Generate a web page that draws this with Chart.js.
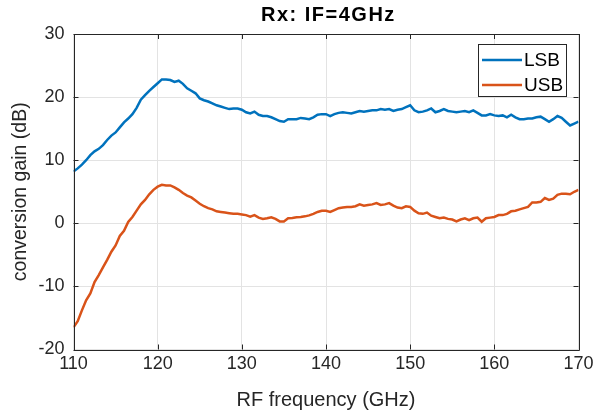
<!DOCTYPE html>
<html>
<head>
<meta charset="utf-8">
<script src="https://cdn.jsdelivr.net/npm/chart.js@4"></script>
<style>
html,body{margin:0;padding:0;background:#fff;}
#c{display:block;}
</style>
</head>
<body>
<canvas id="c" width="599" height="417"></canvas>
<script>
// RF frequency grid (GHz)
const freq = [
110,110.5,111,111.5,112,112.5,113,113.5,114,114.5,115,115.5,116,116.5,117,117.5,118,118.5,119,119.5,
120,120.5,121,121.5,122,122.5,123,123.5,124,124.5,125,125.5,126,126.5,127,127.5,128,128.5,129,129.5,
130,130.5,131,131.5,132,132.5,133,133.5,134,134.5,135,135.5,136,136.5,137,137.5,138,138.5,139,139.5,
140,140.5,141,141.5,142,142.5,143,143.5,144,144.5,145,145.5,146,146.5,147,147.5,148,148.5,149,149.5,
150,150.5,151,151.5,152,152.5,153,153.5,154,154.5,155,155.5,156,156.5,157,157.5,158,158.5,159,159.5,
160,160.5,161,161.5,162,162.5,163,163.5,164,164.5,165,165.5,166,166.5,167,167.5,168,168.5,169,169.5,170];

// LSB conversion gain (dB)
const lsb = [
8.2,8.7,9.3,10.0,10.8,11.4,11.8,12.4,13.2,13.9,14.4,15.2,16.0,16.6,17.3,18.3,19.6,20.3,21.0,21.6,
22.2,22.8,22.8,22.7,22.4,22.6,22.1,21.4,21.0,20.6,19.8,19.5,19.3,19.0,18.7,18.5,18.3,18.1,18.2,18.2,
18.0,17.6,17.4,17.7,17.2,17.0,17.0,16.8,16.5,16.2,16.1,16.5,16.5,16.5,16.7,16.6,16.5,16.8,17.2,17.3,
17.3,17.0,17.3,17.5,17.6,17.5,17.4,17.6,17.8,17.7,17.8,17.9,17.9,18.1,18.0,18.1,17.8,18.0,18.1,18.4,
18.7,17.9,17.6,17.7,17.9,18.2,17.6,17.8,18.1,17.8,17.7,17.6,17.7,17.8,17.6,17.9,17.5,17.1,17.1,17.3,
17.1,17.0,17.1,16.8,17.2,16.8,16.5,16.5,16.6,16.6,16.8,16.9,16.5,16.1,16.5,17.0,16.7,16.1,15.5,15.8,16.1];

// USB conversion gain (dB)
const usb = [
-16.5,-15.5,-13.8,-12.2,-11.1,-9.3,-8.2,-7.0,-5.8,-4.5,-3.5,-2.0,-1.2,0.2,1.0,2.0,3.0,3.7,4.6,5.3,
5.8,6.1,6.0,6.0,5.7,5.3,4.8,4.4,4.1,3.6,3.1,2.7,2.4,2.2,1.9,1.8,1.7,1.6,1.5,1.5,
1.4,1.3,1.05,1.3,0.9,0.7,0.8,0.95,0.7,0.3,0.3,0.8,0.85,0.95,1.0,1.1,1.25,1.5,1.8,2.0,
2.0,1.8,2.1,2.4,2.5,2.6,2.6,2.7,3.0,2.8,2.9,3.0,3.2,2.9,3.0,3.2,2.8,2.5,2.4,2.7,
2.6,2.0,1.6,1.5,1.7,1.2,1.0,0.8,0.9,0.7,0.6,0.3,0.6,0.8,0.5,0.8,0.9,0.25,0.8,0.9,
1.0,1.3,1.3,1.5,1.9,2.0,2.2,2.4,2.6,3.3,3.3,3.4,4.0,3.7,3.9,4.5,4.7,4.7,4.6,5.0,5.3];

const seriesNames = ['LSB', 'USB'];
const seriesColors = ['#0072BD', '#D95319'];
const xTicks = [110, 120, 130, 140, 150, 160, 170];
const yTicks = [-20, -10, 0, 10, 20, 30];
const titleText = 'Rx: IF=4GHz';
const xLabel = 'RF frequency (GHz)';
const yLabel = 'conversion gain (dB)';

const FONT = '"Liberation Sans", Arial, Helvetica, sans-serif';
const AXC = '#262626';

const toPts = arr => arr.map((v, i) => ({x: freq[i], y: v}));

const matlabPlugin = {
  id: 'matlab',
  afterDatasetsDraw(chart) {
    const {ctx, chartArea: a, scales} = chart;
    const xs = scales.x, ys = scales.y;
    ctx.save();
    // box
    ctx.strokeStyle = AXC;
    ctx.lineWidth = 1;
    ctx.beginPath();
    ctx.rect(Math.round(a.left) + 0.5, Math.round(a.top) + 0.5, Math.round(a.right - a.left), Math.round(a.bottom - a.top));
    ctx.stroke();
    // inward ticks
    const tl = 5;
    ctx.beginPath();
    xTicks.forEach(t => {
      const px = Math.round(xs.getPixelForValue(t)) + 0.5;
      ctx.moveTo(px, a.bottom); ctx.lineTo(px, a.bottom - tl);
      ctx.moveTo(px, a.top); ctx.lineTo(px, a.top + tl);
    });
    yTicks.forEach(t => {
      const py = Math.round(ys.getPixelForValue(t)) + 0.5;
      ctx.moveTo(a.left, py); ctx.lineTo(a.left + tl, py);
      ctx.moveTo(a.right, py); ctx.lineTo(a.right - tl, py);
    });
    ctx.stroke();
    // legend
    const lx = 478.5, ly = 44.5, lw = 88, lh = 52;
    ctx.fillStyle = '#fff';
    ctx.fillRect(lx, ly, lw, lh);
    ctx.strokeStyle = AXC;
    ctx.strokeRect(lx, ly, lw, lh);
    ctx.font = '19px ' + FONT;
    ctx.textBaseline = 'middle';
    ctx.textAlign = 'left';
    seriesNames.forEach((n, i) => {
      const cy = 60 + i * 25;
      ctx.strokeStyle = seriesColors[i];
      ctx.lineWidth = 2.5;
      ctx.beginPath();
      ctx.moveTo(482, cy); ctx.lineTo(522, cy);
      ctx.stroke();
      ctx.fillStyle = '#000';
      ctx.fillText(n, 524, cy + 1);
    });
    // title
    ctx.font = 'bold 20px ' + FONT;
    ctx.fillStyle = '#000';
    ctx.textAlign = 'left';
    ctx.textBaseline = 'alphabetic';
    if ('letterSpacing' in ctx) ctx.letterSpacing = '1.5px';
    ctx.fillText(titleText, 261, 21);
    ctx.restore();
  }
};

new Chart(document.getElementById('c'), {
  type: 'line',
  data: {
    datasets: [
      {label: seriesNames[0], data: toPts(lsb), borderColor: seriesColors[0], borderWidth: 2.5, pointRadius: 0, tension: 0, fill: false},
      {label: seriesNames[1], data: toPts(usb), borderColor: seriesColors[1], borderWidth: 2.5, pointRadius: 0, tension: 0, fill: false}
    ]
  },
  options: {
    responsive: false,
    animation: false,
    devicePixelRatio: 1,
    layout: {padding: {left: 0, right: 20.5, top: 34, bottom: 0}},
    plugins: {legend: {display: false}, title: {display: false}, tooltip: {enabled: false}},
    scales: {
      x: {
        type: 'linear', min: 110, max: 170,
        afterFit: s => { s.height = 67.5; },
        afterBuildTicks: s => { s.ticks = xTicks.map(v => ({value: v})); },
        ticks: {font: {family: FONT, size: 18}, color: AXC, padding: 4, maxRotation: 0},
        grid: {color: '#e3e3e3', lineWidth: 1, drawTicks: false},
        border: {display: false},
        title: {display: true, text: xLabel, font: {family: FONT, size: 20}, color: AXC, padding: {top: 0, bottom: 5}}
      },
      y: {
        type: 'linear', min: -20, max: 30,
        afterFit: s => { s.width = 73.5; },
        afterBuildTicks: s => { s.ticks = yTicks.map(v => ({value: v})); },
        ticks: {font: {family: FONT, size: 18}, color: AXC, padding: 9},
        grid: {color: '#e3e3e3', lineWidth: 1, drawTicks: false},
        border: {display: false},
        title: {display: true, text: yLabel, font: {family: FONT, size: 19.5}, color: AXC, padding: {top: 9, bottom: 0}}
      }
    }
  },
  plugins: [matlabPlugin]
});
</script>
</body>
</html>
